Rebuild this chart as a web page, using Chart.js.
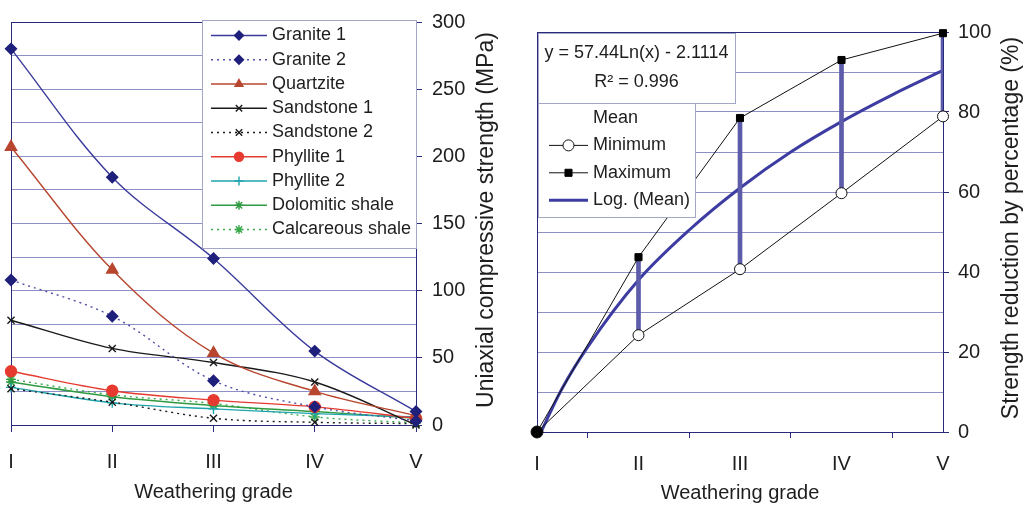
<!DOCTYPE html>
<html>
<head>
<meta charset="utf-8">
<title>Strength vs weathering grade</title>
<script src="https://cdn.jsdelivr.net/npm/chart.js@4.4.1/dist/chart.umd.min.js"></script>
<style>
    html, body { margin: 0; padding: 0; background: #fff; }
    #wrap { position: relative; width: 1025px; height: 505px; overflow: hidden; }
    #leftChart { position: absolute; left: 0; top: 0; }
    #rightChart { position: absolute; left: 510px; top: 0; }
</style>
</head>
<body>
<div id="wrap">
    <canvas id="leftChart" width="510" height="505"></canvas>
    <canvas id="rightChart" width="515" height="505"></canvas>
</div>
<script>
// Weathering grades (x axis of both charts)
const grades = ['I', 'II', 'III', 'IV', 'V'];
const gradeNumbers = [1, 2, 3, 4, 5];

// Left chart: uniaxial compressive strength (MPa) per rock type
const granite1 = [280, 184.5, 124, 55, 10];
const granite2 = [108, 81, 33, 13.5, 3];
const quartzite = [207, 115.5, 53.5, 25, 7];
const sandstone1 = [78, 57, 46.5, 32, 0];
const sandstone2 = [27, 17, 5, 2, 1];
const phyllite1 = [40, 25.5, 18.5, 13.5, 5];
const phyllite2 = [28, 16.5, 12, 8.5, 6];
const dolomiticShale = [32, 21, 14.5, 10, 5];
const calcareousShale = [34, 22.5, 16, 6, 1.5];

// Right chart: strength reduction by percentage (%)
const minimumReduction = [0, 24.2, 40.7, 59.7, 78.9];
const maximumReduction = [0, 43.7, 78.5, 93, 99.7];
// logarithmic trendline of the mean
const logMeanX = [1, 1.25, 1.5, 2, 2.5, 3, 3.5, 4, 4.5, 5];
const logMeanY = [-2.1, 11, 21.3, 38, 50.5, 61, 70, 77.6, 84.3, 90.4];
const trendEquation = 'y = 57.44Ln(x) - 2.1114';
const trendR2 = 'R² = 0.996';

const FONT = '"Liberation Sans", Arial, Helvetica, sans-serif';
const NAVY = '#2a2a7c';
const GRID = '#8f8fc8';
const TEXT = '#1e1e1e';
const BOX_BORDER = '#a4a6c6';

/**
 * Draws a marker the same way Chart.js draws points.
 */
function marker(ctx, style, radius, x, y, borderWidth) {
    if (!style || radius <= 0) return;
    Chart.helpers.drawPoint(ctx, { pointStyle: style, radius: radius, rotation: 0, borderWidth: borderWidth }, x, y);
}

function lastOf(value) {
    return Array.isArray(value) ? value[value.length - 1] : value;
}

/**
 * Framed legend drawn inside the plot area, like the spreadsheet original.
 */
const boxLegend = {
    id: 'boxLegend',
    afterDraw(chart, args, opts) {
        const ctx = chart.ctx;
        ctx.save();
        ctx.fillStyle = '#fff';
        ctx.strokeStyle = BOX_BORDER;
        ctx.lineWidth = 1;
        ctx.fillRect(opts.box[0], opts.box[1], opts.box[2], opts.box[3]);
        ctx.strokeRect(opts.box[0] + 0.5, opts.box[1] + 0.5, opts.box[2], opts.box[3]);

        ctx.font = opts.fontSize + 'px ' + FONT;
        ctx.textBaseline = 'middle';
        ctx.textAlign = 'left';

        chart.data.datasets.forEach((ds, i) => {
            const y = opts.rowY + i * opts.rowStep;
            const mid = (opts.sampleX[0] + opts.sampleX[1]) / 2;
            if (ds.legendSample !== 'none') {
                ctx.strokeStyle = ds.borderColor;
                ctx.lineWidth = ds.borderWidth;
                ctx.setLineDash(ds.borderDash || []);
                ctx.beginPath();
                ctx.moveTo(opts.sampleX[0], y);
                ctx.lineTo(opts.sampleX[1], y);
                ctx.stroke();
                ctx.setLineDash([]);
                ctx.fillStyle = lastOf(ds.pointBackgroundColor);
                ctx.strokeStyle = lastOf(ds.pointBorderColor);
                ctx.lineWidth = ds.pointBorderWidth || 1;
                const r = opts.markerRadius || lastOf(ds.pointRadius);
                marker(ctx, ds.pointStyle, Math.min(r, lastOf(ds.pointRadius)), mid, y, ds.pointBorderWidth || 1);
            }
            ctx.fillStyle = TEXT;
            ctx.fillText(ds.label, opts.textX, y);
        });
        ctx.restore();
    }
};

/**
 * Plot frame and the y-axis title reading bottom to top on the right side.
 */
const frameAndTitle = {
    id: 'frameAndTitle',
    beforeDatasetsDraw(chart) {
        const a = chart.chartArea;
        const ctx = chart.ctx;
        ctx.save();
        ctx.strokeStyle = NAVY;
        ctx.lineWidth = 1;
        ctx.strokeRect(Math.round(a.left) + 0.5, Math.round(a.top) + 0.5, Math.round(a.right - a.left), Math.round(a.bottom - a.top));
        ctx.restore();
    },
    afterDraw(chart, args, opts) {
        const ctx = chart.ctx;
        ctx.save();
        ctx.translate(opts.x, opts.centerY);
        ctx.rotate(-Math.PI / 2);
        ctx.font = opts.fontSize + 'px ' + FONT;
        ctx.fillStyle = TEXT;
        ctx.textAlign = 'center';
        ctx.textBaseline = 'middle';
        ctx.fillText(opts.text, 0, 0);
        ctx.restore();
    }
};

/**
 * Trendline equation box of the right chart.
 */
const equationBox = {
    id: 'equationBox',
    afterDraw(chart, args, opts) {
        const ctx = chart.ctx;
        const [x, y, w, h] = opts.box;
        ctx.save();
        ctx.fillStyle = '#fff';
        ctx.fillRect(x, y, w, h);
        ctx.strokeStyle = BOX_BORDER;
        ctx.strokeRect(x + 0.5, y + 0.5, w, h);
        ctx.fillStyle = TEXT;
        ctx.font = opts.fontSize + 'px ' + FONT;
        ctx.textAlign = 'center';
        ctx.textBaseline = 'middle';
        opts.lines.forEach((line, i) => ctx.fillText(line, x + w / 2, opts.lineY[i]));
        ctx.restore();
    }
};

function rockSeries(label, data, lineColor, pointColor, style, radius, dotted) {
    return {
        label: label,
        data: data,
        borderColor: lineColor,
        borderWidth: 1.4,
        borderDash: dotted ? [2, 4] : [],
        pointStyle: style,
        pointRadius: radius,
        pointBackgroundColor: pointColor,
        pointBorderColor: pointColor,
        pointBorderWidth: 1.4,
        tension: 0.35,
        fill: false,
        clip: false
    };
}

// x axis keeps a fixed height and no extra edge padding for the first/last label
function fixXAxis(height) {
    return scale => {
        scale.height = height;
        scale.paddingLeft = 0;
        scale.paddingRight = 0;
    };
}

const tickFont = { family: FONT, size: 20 };
const titleFont = { family: FONT, size: 20 };

new Chart(document.getElementById('leftChart'), {
    type: 'line',
    data: {
        labels: grades,
        datasets: [
            rockSeries('Granite 1', granite1, '#3b3b9c', '#1f1f7c', 'rectRot', 5.5, false),
            rockSeries('Granite 2', granite2, '#4f4fa6', '#1f1f7c', 'rectRot', 5.5, true),
            rockSeries('Quartzite', quartzite, '#b8462f', '#b8462f', 'triangle', 6.5, false),
            rockSeries('Sandstone 1', sandstone1, '#1a1a1a', '#1a1a1a', 'crossRot', 5, false),
            rockSeries('Sandstone 2', sandstone2, '#1a1a1a', '#1a1a1a', 'crossRot', 5, true),
            rockSeries('Phyllite 1', phyllite1, '#e63a30', '#e63a30', 'circle', 5.5, false),
            rockSeries('Phyllite 2', phyllite2, '#1fa4ad', '#1fa4ad', 'cross', 5, false),
            rockSeries('Dolomitic shale', dolomiticShale, '#2f9a40', '#2f9a40', 'star', 5, false),
            rockSeries('Calcareous shale', calcareousShale, '#3aaa4c', '#3aaa4c', 'star', 5, true)
        ]
    },
    options: {
        responsive: false,
        animation: false,
        devicePixelRatio: 1,
        layout: { padding: { left: 11, top: 20, right: 0, bottom: 0 } },
        plugins: {
            legend: { display: false },
            tooltip: { enabled: false },
            boxLegend: { box: [202, 20, 214, 228], rowY: 35.5, rowStep: 24.25, sampleX: [211, 267], textX: 272, fontSize: 18, markerRadius: 4.5 },
            frameAndTitle: { text: 'Uniaxial compressive strength (MPa)', x: 487, centerY: 220, fontSize: 23 }
        },
        scales: {
            x: {
                type: 'category',
                offset: false,
                grid: { drawOnChartArea: false, color: NAVY, tickLength: 7 },
                border: { color: NAVY },
                ticks: { font: tickFont, color: TEXT, padding: 18, maxRotation: 0 },
                title: { display: true, text: 'Weathering grade', font: titleFont, color: TEXT, padding: { top: 0, bottom: 1 } },
                afterFit: fixXAxis(80)
            },
            y: {
                position: 'right',
                min: 0,
                max: 300,
                grid: {
                    color: GRID,
                    tickLength: 6,
                    tickColor: ctx => (ctx.tick && ctx.tick.value % 50 === 0) ? NAVY : 'rgba(0,0,0,0)'
                },
                border: { color: NAVY },
                ticks: {
                    stepSize: 25,
                    autoSkip: false,
                    padding: 10,
                    font: tickFont,
                    color: TEXT,
                    callback: v => (v % 50 === 0 ? v : '')
                },
                afterFit: scale => { scale.width = 94; }
            }
        }
    },
    plugins: [frameAndTitle, boxLegend]
});

// min/max lines, error bars of the mean and the log trendline
const toPoints = (xs, ys) => xs.map((x, i) => ({ x: x, y: ys[i] }));
const meanRange = gradeNumbers.slice(1).map((g, i) => ({ x: g, y: [minimumReduction[i + 1], maximumReduction[i + 1]] }));

new Chart(document.getElementById('rightChart'), {
    type: 'line',
    data: {
        datasets: [
            {
                type: 'bar',
                label: 'Mean',
                legendSample: 'none',
                data: meanRange,
                backgroundColor: '#5c5caa',
                barThickness: 4,
                order: 3
            },
            {
                label: 'Minimum',
                data: toPoints(gradeNumbers, minimumReduction),
                borderColor: '#111',
                borderWidth: 1,
                pointStyle: 'circle',
                pointRadius: [6, 5.5, 5.5, 5.5, 5.5],
                pointBackgroundColor: ['#000', '#fff', '#fff', '#fff', '#fff'],
                pointBorderColor: '#111',
                pointBorderWidth: 1,
                tension: 0,
                clip: false,
                order: 1
            },
            {
                label: 'Maximum',
                data: toPoints(gradeNumbers, maximumReduction),
                borderColor: '#111',
                borderWidth: 1,
                pointStyle: 'rect',
                pointRadius: [0, 5, 5, 5, 5],
                pointBackgroundColor: '#000',
                pointBorderColor: '#000',
                pointBorderWidth: 1,
                tension: 0,
                clip: false,
                order: 2
            },
            {
                label: 'Log. (Mean)',
                data: toPoints(logMeanX, logMeanY),
                borderColor: '#3c3ca2',
                borderWidth: 3,
                pointRadius: 0,
                pointStyle: false,
                cubicInterpolationMode: 'monotone',
                order: 4
            }
        ]
    },
    options: {
        responsive: false,
        animation: false,
        devicePixelRatio: 1,
        layout: { padding: { left: 27, top: 32, right: 0, bottom: 0 } },
        plugins: {
            legend: { display: false },
            tooltip: { enabled: false },
            equationBox: { box: [28, 33, 197, 70], lines: [trendEquation, trendR2], lineY: [53, 82], fontSize: 18 },
            boxLegend: { box: [28, 103, 157, 114], rowY: 118, rowStep: 27.4, sampleX: [39, 78], textX: 83, fontSize: 18 },
            frameAndTitle: { text: 'Strength reduction by percentage (%)', x: 502, centerY: 228, fontSize: 23 }
        },
        scales: {
            x: {
                type: 'linear',
                min: 1,
                max: 5,
                offset: false,
                grid: { drawOnChartArea: false, color: NAVY, tickLength: 6 },
                border: { color: NAVY },
                ticks: {
                    stepSize: 1,
                    autoSkip: false,
                    font: tickFont,
                    color: TEXT,
                    padding: 14,
                    maxRotation: 0,
                    callback: (v, i) => grades[i]
                },
                title: { display: true, text: 'Weathering grade', font: titleFont, color: TEXT, padding: { top: 0, bottom: 0 } },
                afterFit: fixXAxis(73)
            },
            y: {
                position: 'right',
                min: 0,
                max: 100,
                grid: {
                    color: GRID,
                    tickLength: 6,
                    tickColor: ctx => (ctx.tick && ctx.tick.value % 20 === 0) ? NAVY : 'rgba(0,0,0,0)'
                },
                border: { color: NAVY },
                ticks: {
                    stepSize: 10,
                    autoSkip: false,
                    padding: 9,
                    font: tickFont,
                    color: TEXT,
                    callback: v => (v % 20 === 0 ? v : '')
                },
                afterFit: scale => { scale.width = 82; }
            }
        }
    },
    plugins: [frameAndTitle, equationBox, boxLegend]
});
</script>
</body>
</html>
